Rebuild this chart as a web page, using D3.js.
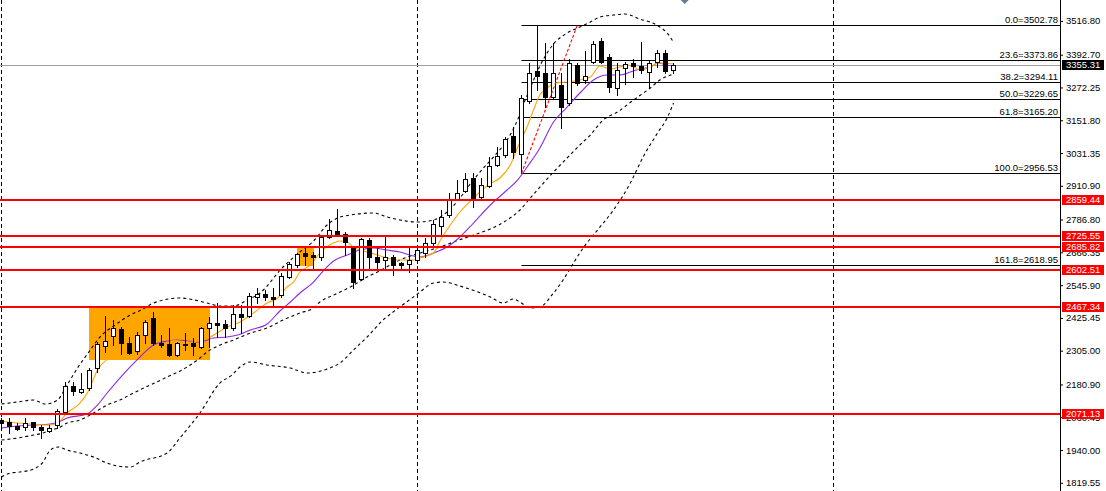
<!DOCTYPE html>
<html><head><meta charset="utf-8">
<script src="https://cdn.jsdelivr.net/npm/d3@7"></script>
<style>
body{margin:0;background:#fff;}
svg{display:block;}
text{font-family:"Liberation Sans",Arial,sans-serif;}
</style>
</head><body>
<svg id="c" width="1106" height="491"></svg>
<script>
// ---- data (weekly XAUUSD bars, index 0 = first week of 2024) ----
const barOpen  = [2052,2044,2027,2023,2042,2026,2009,2032,2081,2175,2153,2167,2240,2322,2359,2384,2332,2304,2363,2424,2334,2328,2288,2330,2332,2320,2387,2408,2402,2387,2440,2432,2503,2513,2503,2510,2577,2620,2663,2656,2648,2724,2745,2734,2681,2567,2712,2648,2638,2648,2626,2624,2638,2663,2700,2763,2804,2859,2893,2938,2871,2910,2987,3024,3094,3027,3224,3333,3326,3238,3281,3214,3355,3300,3367,3443,3385,3269,3343,3363,3351,3330,3367,3400,3336];
const barHigh  = [2058,2058,2039,2058,2044,2032,2032,2090,2191,2191,2222,2240,2338,2432,2418,2393,2356,2375,2418,2448,2363,2387,2338,2369,2350,2393,2430,2481,2418,2473,2473,2516,2535,2528,2535,2589,2632,2665,2681,2669,2730,2788,2824,2742,2687,2718,2718,2687,2724,2657,2632,2681,2687,2718,2785,2822,2883,2932,2957,2957,2938,3018,3055,3091,3128,3245,3361,3502.8,3434,3434,3324,3376,3361,3407,3444,3453,3395,3363,3367,3376,3440,3373,3410,3410,3361];
const barLow   = [2014,2003,2014,2014,2014,1984,2006,2020,2077,2142,2148,2160,2228,2301,2326,2293,2293,2293,2332,2326,2320,2285,2285,2307,2289,2314,2320,2356,2356,2381,2369,2430,2480,2491,2473,2503,2571,2613,2620,2604,2638,2718,2726,2656,2534,2565,2608,2608,2608,2583,2601,2595,2626,2650,2693,2730,2797,2859,2889,2834,2865,2908,2984,3018,3012,2956.5,3215,3263,3202,3232,3122,3208,3281,3290,3361,3361,3257,3245,3285,3312,3324,3269,3349,3324,3324];
const barClose = [2039,2029,2016,2038,2026,2014,2020,2084,2175,2157,2164,2234,2328,2342,2389,2334,2298,2363,2411,2332,2325,2289,2332,2325,2322,2389,2408,2398,2389,2439,2430,2506,2513,2501,2495,2579,2623,2660,2653,2650,2722,2748,2734,2705,2558,2714,2648,2632,2648,2620,2619,2638,2675,2702,2770,2797,2859,2883,2935,2865,2914,2984,3021,3082,3036,3235,3326,3315,3236,3326,3199,3361,3290,3314,3432,3367,3273,3336,3358,3351,3336,3363,3400,3334,3355.31];

// indicator readings: [bar index, price]
const fastMA = [[0,2046.5],[2,2039.2],[4,2035.5],[6,2031.9],[7,2039.2],[8.2,2076],[9.8,2112.7],[10.8,2153.1],[12,2234],[13.6,2281.7],[16.1,2325.8],[18.6,2351.5],[21.1,2344.2],[23.6,2336.8],[26.1,2355.2],[28.2,2392],[29.8,2410.4],[31.5,2443.4],[33.2,2480.2],[34.5,2498.6],[35.7,2539],[36.5,2557.3],[37.3,2594.1],[38.6,2619.8],[39.8,2663.9],[41.5,2700.6],[42.3,2708],[43.2,2704.3],[44,2685.9],[44.8,2675],[45.7,2667.6],[47,2656.6],[48.2,2645.6],[49.8,2638.2],[51.5,2638.2],[52.3,2645.6],[54,2663.9],[54.8,2708],[56.1,2766.8],[57.3,2814.6],[59,2866],[61,2917.4],[62.3,2939.5],[63.6,2987.2],[64.8,3071.8],[65.7,3126.9],[66.5,3189.3],[67.3,3244.5],[68.2,3270.2],[69.2,3288.6],[70.7,3292.3],[72.3,3299.6],[73.6,3310.6],[74.8,3351],[76.1,3340],[77.3,3347.4],[78.2,3354.7],[79,3347.4],[79.8,3336.3],[81.1,3347.4],[82.1,3362],[84,3358.4]];
const slowMA = [[0,2020.8],[2,2028.2],[4,2031.9],[6.1,2035.5],[7.1,2042.9],[8.2,2057.6],[10.7,2072.3],[12,2105.4],[13.2,2149.5],[15.7,2234],[17.3,2281.7],[19,2325.8],[20.7,2340.5],[22,2344.2],[23.2,2340.5],[24.8,2336.9],[26.5,2351.5],[28.2,2355.2],[29.5,2362.6],[31.1,2381],[33.2,2403],[34.8,2450.8],[36.1,2483.9],[37.3,2517],[39,2557.3],[40.2,2597.7],[41.5,2634.5],[43.2,2656.5],[44.8,2674.9],[46.5,2682.3],[48.2,2674.9],[49.8,2667.6],[51.5,2652.9],[52.3,2649.2],[54,2663.9],[55.7,2685.9],[57.3,2722.7],[59,2774.1],[61.1,2840.3],[63.2,2895.4],[64.5,2932.1],[65.7,2979.9],[67.3,3049.7],[69,3145.1],[70.7,3200.4],[72.3,3251.9],[74,3299.6],[75.7,3318],[77.3,3318],[78.6,3329],[79.8,3340],[81.1,3347.4],[82.1,3362.1],[83.2,3354.7],[84,3351]];
const bandUpper = [[0,2109],[2,2116.4],[4,2123.7],[5.5,2109],[7,2123.7],[8.2,2178.8],[9.5,2241.3],[11.1,2307.4],[12.3,2355.2],[14.2,2399.3],[16.1,2436.1],[17.7,2458.1],[19,2480.2],[22.3,2498.5],[25.7,2480.2],[27.3,2469.2],[29,2469.2],[30.7,2491.2],[32.3,2516.9],[35.2,2612.5],[37.3,2667.6],[39,2708],[40.7,2766.8],[42,2792.5],[43.6,2803.5],[46.5,2810.9],[48.2,2796.2],[49.8,2785.2],[52,2777.8],[54,2785.2],[55.7,2814.6],[57.3,2866],[58.6,2917.4],[59.8,2961.5],[61.5,3016.6],[63.2,3079.1],[64.5,3152.6],[65.2,3207.7],[66.1,3270.2],[67.3,3351],[68.9,3428.2],[70.7,3472.3],[72.3,3494.4],[73.6,3512.7],[74.8,3531],[76.5,3538.4],[77.9,3542.1],[79.8,3523.7],[81.9,3501.7],[83.2,3472.3],[84,3439.2]];
const bandLower = [[0,1976.7],[2,1984.1],[4,1995.1],[5.2,2002.5],[6.1,2013.5],[7.1,2020.8],[8.2,2039.2],[9.8,2050.2],[11.5,2075.9],[13.2,2105.4],[14.8,2123.7],[16.5,2149.5],[18.6,2178.9],[20.7,2208.3],[23.2,2245],[24.8,2278.1],[25.7,2300.1],[27.3,2325.8],[29,2344.2],[31.1,2369.9],[33.2,2388.3],[35.2,2417.7],[37.3,2443.4],[39,2461.8],[39.8,2483.9],[41.5,2509.6],[43.6,2539],[45.7,2575.8],[47,2594.1],[49.8,2638.2],[52.3,2663.9],[54.8,2685.9],[56.5,2704.3],[59,2730],[61.1,2752.1],[63.2,2785.2],[64.8,2821.9],[66.1,2866],[67.3,2906.4],[69,2961.5],[70.7,3013],[72.3,3060.8],[73.6,3097.5],[75.2,3152.6],[77,3182],[79,3226.1],[81.1,3270.2],[82.3,3299.6],[84,3321.6]];
const bandOuter = [[0,1840.8],[1.1,1855.5],[2.3,1859.1],[4,1870.2],[5.2,1895.9],[6.1,1940],[7.1,1951],[8.2,1940],[9.8,1929],[11.5,1914.3],[13.2,1892.2],[14.5,1881.2],[16.1,1877.5],[17.3,1895.9],[20.7,1929],[22.3,1984.1],[24.8,2076],[27.3,2186.2],[28.8,2215.6],[29.8,2245],[31.1,2263.4],[33.2,2252.4],[36.1,2241.3],[38.2,2222.9],[40.7,2237.6],[42.3,2259.7],[44,2307.5],[45.7,2355.2],[47.7,2417.7],[49.8,2465.5],[52,2513.2],[54,2553.6],[55.2,2557.3],[57.7,2538.9],[61.1,2502.2],[62.7,2480.2],[64,2494.9],[64.8,2483.9],[66.1,2461.8],[67.3,2465.5],[69,2517],[70.2,2564.7],[71.5,2627.2],[72.7,2682.3],[74.5,2748.4],[76.5,2821.9],[78.6,2921.1],[80.2,3016.6],[82,3104.8],[83.2,3160],[84,3215.1]];

// levels
const supportLevels = [2859.44, 2725.55, 2685.82, 2602.51, 2467.34, 2071.13];
const fibRatios = ["0.0","23.6","38.2","50.0","61.8","100.0","161.8"];
const fibPrices = [3502.78, 3373.86, 3294.11, 3229.65, 3165.20, 2956.53, 2618.95];
const fibAnchorIdx = [65, 72];          // low bar, high bar
const fibAnchorPrice = [2956.53, 3502.78];
const bidPrice = 3355.31;
const axisTicks = [3516.80,3392.70,3272.25,3151.80,3031.35,2910.90,2786.80,2666.35,2545.90,2425.45,2305.00,2180.90,2060.45,1940.00,1819.55];
const yearStartIdx = [0, 52, 104];
const zoneIdx = [[11, 26], [37, 39]];
const zonePrice = [[2465.0, 2270.7], [2685.8, 2616.1]];
const shiftMarkerIdx = 85.4;

// ---- drawing ----
const W = 1106, H = 491, plotR = 1060;
const svg = d3.select("#c");
const x = d3.scaleLinear().domain([0, 84]).range([1.5, 673.5]);
const y = d3.scaleLinear().domain([1819.55, 3516.80]).range([482.8, 20.9]);
const py = v => Math.round(y(v)) + 0.5;
const FS = "9.5px";

svg.append("rect").attr("width", W).attr("height", H).attr("fill", "#fff");

// zones
svg.append("g").selectAll("rect").data(zoneIdx).join("rect")
  .attr("x", (d) => x(d[0]) - 0.5)
  .attr("width", d => x(d[1]) - x(d[0]) + 1)
  .attr("y", (d, i) => y(zonePrice[i][0]))
  .attr("height", (d, i) => y(zonePrice[i][1]) - y(zonePrice[i][0]))
  .attr("fill", "#FFA500");

// year separators
svg.append("g").selectAll("line").data(yearStartIdx).join("line")
  .attr("x1", d => x(d)).attr("x2", d => x(d))
  .attr("y1", 0).attr("y2", H)
  .attr("stroke", "#000").attr("stroke-width", 1).attr("stroke-dasharray", "4,3");

// bid line
svg.append("line").attr("x1", 0).attr("x2", plotR).attr("y1", py(bidPrice)).attr("y2", py(bidPrice))
  .attr("stroke", "#a0a0a0").attr("stroke-width", 1);

// fib level lines
svg.append("g").selectAll("line").data(fibPrices).join("line")
  .attr("x1", x(fibAnchorIdx[0])).attr("x2", plotR)
  .attr("y1", d => py(d)).attr("y2", d => py(d))
  .attr("stroke", "#000").attr("stroke-width", 1);

// bands and MAs
const line = d3.line().x(d => x(d[0])).y(d => y(d[1])).curve(d3.curveMonotoneX);
[bandUpper, bandLower, bandOuter].forEach(b => {
  svg.append("path").attr("d", line(b)).attr("fill", "none")
    .attr("stroke", "#000").attr("stroke-width", 1.1).attr("stroke-dasharray", "3,3");
});
svg.append("path").attr("d", line(slowMA)).attr("fill", "none").attr("stroke", "#8A2BE2").attr("stroke-width", 1.1);
svg.append("path").attr("d", line(fastMA)).attr("fill", "none").attr("stroke", "#FFA500").attr("stroke-width", 1.1);

// candles
const bars = d3.range(barOpen.length);
const cg = svg.append("g");
cg.selectAll("line").data(bars).join("line")
  .attr("x1", i => x(i)).attr("x2", i => x(i))
  .attr("y1", i => Math.round(y(barHigh[i]))).attr("y2", i => Math.round(y(barLow[i])) + 1)
  .attr("stroke", "#000").attr("stroke-width", 1);
cg.selectAll("rect").data(bars).join("rect")
  .attr("x", i => x(i) - 2)
  .attr("width", 4)
  .attr("y", i => Math.round(y(Math.max(barOpen[i], barClose[i]))) + 0.5)
  .attr("height", i => Math.max(1, Math.round(y(Math.min(barOpen[i], barClose[i]))) - Math.round(y(Math.max(barOpen[i], barClose[i])))))
  .attr("fill", i => barClose[i] >= barOpen[i] ? "#fff" : "#000")
  .attr("stroke", "#000").attr("stroke-width", 1);

// fib trend line
svg.append("line")
  .attr("x1", x(fibAnchorIdx[0])).attr("y1", y(fibAnchorPrice[0]))
  .attr("x2", x(fibAnchorIdx[1])).attr("y2", y(fibAnchorPrice[1]))
  .attr("stroke", "#ff0000").attr("stroke-width", 1.1).attr("stroke-dasharray", "3,2");

// support / resistance lines
svg.append("g").selectAll("line").data(supportLevels).join("line")
  .attr("x1", 0).attr("x2", plotR)
  .attr("y1", d => Math.round(y(d))).attr("y2", d => Math.round(y(d)))
  .attr("stroke", "#ff0000").attr("stroke-width", 2);

// fib labels
svg.append("g").selectAll("text").data(fibPrices).join("text")
  .attr("x", plotR - 2).attr("y", d => py(d) - 2.5)
  .attr("text-anchor", "end").attr("font-size", FS).attr("fill", "#000")
  .text((d, i) => fibRatios[i] + "=" + d.toFixed(2));

// right axis
svg.append("rect").attr("x", plotR + 0.5).attr("y", 0).attr("width", W - plotR).attr("height", H).attr("fill", "#fff");
const ax = svg.append("g").attr("transform", `translate(${plotR},0)`)
  .call(d3.axisRight(y).tickValues(axisTicks).tickSize(3).tickPadding(3).tickFormat(d3.format(".2f")));
ax.select(".domain").remove();
ax.selectAll("text").attr("font-size", FS).attr("font-family", "Liberation Sans, Arial, sans-serif").attr("fill", "#000");
ax.selectAll("line").attr("stroke", "#000");
svg.append("line").attr("x1", plotR + 0.5).attr("x2", plotR + 0.5).attr("y1", 0).attr("y2", H).attr("stroke", "#000");

// price labels (drawn over the axis, as the platform does)
const lbl = svg.append("g");
supportLevels.forEach(v => {
  const c = Math.round(y(v));
  lbl.append("rect").attr("x", plotR + 2).attr("y", c - 5).attr("width", 42).attr("height", 10).attr("fill", "#ff0000");
  lbl.append("text").attr("x", plotR + 6).attr("y", c).attr("dy", "0.34em")
    .attr("font-size", FS).attr("fill", "#fff").text(v.toFixed(2));
});
{
  const c = Math.round(y(bidPrice));
  lbl.append("rect").attr("x", plotR + 2).attr("y", c - 5).attr("width", 42).attr("height", 10).attr("fill", "#000");
  lbl.append("text").attr("x", plotR + 6).attr("y", c).attr("dy", "0.34em")
    .attr("font-size", FS).attr("fill", "#fff").text(bidPrice.toFixed(2));
}

// chart shift marker
const sx = x(shiftMarkerIdx);
svg.append("path").attr("d", `M${sx - 4},0 L${sx + 4},0 L${sx},4 Z`).attr("fill", "#6a7d90");
</script>
</body></html>
